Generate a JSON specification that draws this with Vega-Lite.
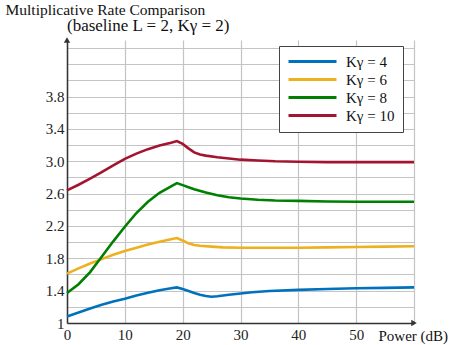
{
  "$schema": "https://vega.github.io/schema/vega-lite/v6.json",
  "width": 347,
  "height": 283,
  "autosize": {"type": "none"},
  "padding": {"left": 67, "top": 40, "right": 35, "bottom": 22},
  "background": "white",
  "title": {
    "text": "(baseline L = 2, Kγ = 2)",
    "anchor": "start",
    "frame": "group",
    "font": "Liberation Serif",
    "fontSize": 17,
    "fontWeight": "normal",
    "color": "#111",
    "offset": 0,
    "dy": 33
  },
  "config": {
    "font": "Liberation Serif",
    "view": {"stroke": null},
    "axis": {
      "labelFont": "Liberation Serif",
      "labelFontSize": 15,
      "labelColor": "#222",
      "labelOverlap": false,
      "ticks": false,
      "domainColor": "#333",
      "domainWidth": 1.5,
      "gridColor": "#c4c4c4",
      "gridOpacity": 1,
      "gridWidth": 1.2,
      "titleFont": "Liberation Serif",
      "titleFontWeight": "normal",
      "titleColor": "#111"
    },
    "legend": {"labelFont": "Liberation Serif", "titleFont": "Liberation Serif"}
  },
  "resolve": {"axis": {"y": "independent"}},
  "layer": [
    {
      "data": {
        "values": [
          {"x": 0, "y": 1.08, "s": "Kγ = 4"}, {"x": 2, "y": 1.13, "s": "Kγ = 4"}, {"x": 4, "y": 1.18, "s": "Kγ = 4"}, {"x": 6, "y": 1.225, "s": "Kγ = 4"}, {"x": 8, "y": 1.265, "s": "Kγ = 4"}, {"x": 10, "y": 1.3, "s": "Kγ = 4"}, {"x": 12, "y": 1.34, "s": "Kγ = 4"}, {"x": 14, "y": 1.375, "s": "Kγ = 4"}, {"x": 16, "y": 1.405, "s": "Kγ = 4"}, {"x": 18, "y": 1.43, "s": "Kγ = 4"}, {"x": 19, "y": 1.44, "s": "Kγ = 4"}, {"x": 20, "y": 1.42, "s": "Kγ = 4"}, {"x": 21, "y": 1.395, "s": "Kγ = 4"}, {"x": 22, "y": 1.37, "s": "Kγ = 4"}, {"x": 23, "y": 1.35, "s": "Kγ = 4"}, {"x": 24, "y": 1.335, "s": "Kγ = 4"}, {"x": 25, "y": 1.325, "s": "Kγ = 4"}, {"x": 26, "y": 1.33, "s": "Kγ = 4"}, {"x": 27, "y": 1.34, "s": "Kγ = 4"}, {"x": 28, "y": 1.35, "s": "Kγ = 4"}, {"x": 30, "y": 1.365, "s": "Kγ = 4"}, {"x": 32, "y": 1.38, "s": "Kγ = 4"}, {"x": 35, "y": 1.395, "s": "Kγ = 4"}, {"x": 40, "y": 1.41, "s": "Kγ = 4"}, {"x": 45, "y": 1.42, "s": "Kγ = 4"}, {"x": 50, "y": 1.43, "s": "Kγ = 4"}, {"x": 55, "y": 1.435, "s": "Kγ = 4"}, {"x": 60, "y": 1.44, "s": "Kγ = 4"},
          {"x": 0, "y": 1.61, "s": "Kγ = 6"}, {"x": 2, "y": 1.675, "s": "Kγ = 6"}, {"x": 4, "y": 1.735, "s": "Kγ = 6"}, {"x": 6, "y": 1.79, "s": "Kγ = 6"}, {"x": 8, "y": 1.845, "s": "Kγ = 6"}, {"x": 10, "y": 1.89, "s": "Kγ = 6"}, {"x": 12, "y": 1.93, "s": "Kγ = 6"}, {"x": 14, "y": 1.97, "s": "Kγ = 6"}, {"x": 16, "y": 2.005, "s": "Kγ = 6"}, {"x": 18, "y": 2.035, "s": "Kγ = 6"}, {"x": 19, "y": 2.05, "s": "Kγ = 6"}, {"x": 20, "y": 2.02, "s": "Kγ = 6"}, {"x": 21, "y": 1.985, "s": "Kγ = 6"}, {"x": 22, "y": 1.965, "s": "Kγ = 6"}, {"x": 23, "y": 1.955, "s": "Kγ = 6"}, {"x": 25, "y": 1.945, "s": "Kγ = 6"}, {"x": 27, "y": 1.935, "s": "Kγ = 6"}, {"x": 30, "y": 1.93, "s": "Kγ = 6"}, {"x": 35, "y": 1.93, "s": "Kγ = 6"}, {"x": 40, "y": 1.93, "s": "Kγ = 6"}, {"x": 45, "y": 1.935, "s": "Kγ = 6"}, {"x": 50, "y": 1.94, "s": "Kγ = 6"}, {"x": 55, "y": 1.945, "s": "Kγ = 6"}, {"x": 60, "y": 1.95, "s": "Kγ = 6"},
          {"x": 0, "y": 1.37, "s": "Kγ = 8"}, {"x": 2, "y": 1.48, "s": "Kγ = 8"}, {"x": 4, "y": 1.63, "s": "Kγ = 8"}, {"x": 6, "y": 1.82, "s": "Kγ = 8"}, {"x": 8, "y": 2.01, "s": "Kγ = 8"}, {"x": 10, "y": 2.19, "s": "Kγ = 8"}, {"x": 12, "y": 2.36, "s": "Kγ = 8"}, {"x": 14, "y": 2.5, "s": "Kγ = 8"}, {"x": 16, "y": 2.61, "s": "Kγ = 8"}, {"x": 18, "y": 2.69, "s": "Kγ = 8"}, {"x": 19, "y": 2.73, "s": "Kγ = 8"}, {"x": 20, "y": 2.705, "s": "Kγ = 8"}, {"x": 21, "y": 2.68, "s": "Kγ = 8"}, {"x": 22, "y": 2.655, "s": "Kγ = 8"}, {"x": 24, "y": 2.615, "s": "Kγ = 8"}, {"x": 26, "y": 2.58, "s": "Kγ = 8"}, {"x": 28, "y": 2.555, "s": "Kγ = 8"}, {"x": 30, "y": 2.54, "s": "Kγ = 8"}, {"x": 33, "y": 2.525, "s": "Kγ = 8"}, {"x": 36, "y": 2.515, "s": "Kγ = 8"}, {"x": 40, "y": 2.51, "s": "Kγ = 8"}, {"x": 45, "y": 2.503, "s": "Kγ = 8"}, {"x": 50, "y": 2.5, "s": "Kγ = 8"}, {"x": 55, "y": 2.5, "s": "Kγ = 8"}, {"x": 60, "y": 2.5, "s": "Kγ = 8"},
          {"x": 0, "y": 2.64, "s": "Kγ = 10"}, {"x": 2, "y": 2.71, "s": "Kγ = 10"}, {"x": 4, "y": 2.785, "s": "Kγ = 10"}, {"x": 6, "y": 2.865, "s": "Kγ = 10"}, {"x": 8, "y": 2.95, "s": "Kγ = 10"}, {"x": 10, "y": 3.03, "s": "Kγ = 10"}, {"x": 12, "y": 3.095, "s": "Kγ = 10"}, {"x": 14, "y": 3.15, "s": "Kγ = 10"}, {"x": 16, "y": 3.195, "s": "Kγ = 10"}, {"x": 18, "y": 3.23, "s": "Kγ = 10"}, {"x": 19, "y": 3.25, "s": "Kγ = 10"}, {"x": 20, "y": 3.215, "s": "Kγ = 10"}, {"x": 21, "y": 3.16, "s": "Kγ = 10"}, {"x": 22, "y": 3.11, "s": "Kγ = 10"}, {"x": 23, "y": 3.085, "s": "Kγ = 10"}, {"x": 24, "y": 3.07, "s": "Kγ = 10"}, {"x": 26, "y": 3.05, "s": "Kγ = 10"}, {"x": 28, "y": 3.035, "s": "Kγ = 10"}, {"x": 30, "y": 3.02, "s": "Kγ = 10"}, {"x": 33, "y": 3.01, "s": "Kγ = 10"}, {"x": 36, "y": 3.0, "s": "Kγ = 10"}, {"x": 40, "y": 2.995, "s": "Kγ = 10"}, {"x": 45, "y": 2.99, "s": "Kγ = 10"}, {"x": 50, "y": 2.99, "s": "Kγ = 10"}, {"x": 55, "y": 2.99, "s": "Kγ = 10"}, {"x": 60, "y": 2.99, "s": "Kγ = 10"}
        ]
      },
      "mark": {"type": "line", "strokeWidth": 2.6, "clip": false},
      "encoding": {
        "x": {
          "field": "x", "type": "quantitative",
          "scale": {"domain": [0, 60], "nice": false},
          "axis": {
            "values": [0, 10, 20, 30, 40, 50, 60],
            "labelExpr": "datum.value == 60 ? '' : datum.label",
            "labelOverlap": false,
            "labelPadding": 4,
            "labelFlush": false,
            "grid": true,
            "title": "Power (dB)",
            "titleFontSize": 15,
            "titleAlign": "left",
            "titleBaseline": "alphabetic",
            "titleX": 311,
            "titleY": 17
          }
        },
        "y": {
          "field": "y", "type": "quantitative",
          "scale": {"domain": [1, 4.5], "nice": false, "zero": false},
          "axis": {
            "orient": "left",
            "values": [1, 1.4, 1.8, 2.2, 2.6, 3, 3.4, 3.8],
            "labelExpr": "datum.value == 1 ? '1' : format(datum.value, '.1f')",
            "labelOverlap": false,
            "labelPadding": 3,
            "labelFlush": false,
            "grid": false,
            "title": "Multiplicative Rate Comparison",
            "titleAngle": 0,
            "titleFontSize": 15.5,
            "titleAlign": "left",
            "titleBaseline": "alphabetic",
            "titleX": -62,
            "titleY": -26
          }
        },
        "color": {
          "field": "s", "type": "nominal",
          "scale": {
            "domain": ["Kγ = 4", "Kγ = 6", "Kγ = 8", "Kγ = 10"],
            "range": ["#0072BD", "#EDB120", "#008000", "#A2142F"]
          },
          "legend": {
            "title": null,
            "orient": "none",
            "legendX": 212,
            "legendY": 6,
            "padding": 8,
            "fillColor": "white",
            "strokeColor": "#444",
            "symbolType": "M-4,0H4",
            "symbolSize": 144,
            "symbolStrokeWidth": 3,
            "symbolOffset": 18,
            "labelFont": "Liberation Serif",
            "labelFontSize": 15,
            "labelColor": "#111",
            "labelOffset": 26,
            "rowPadding": 2
          }
        }
      }
    },
    {
      "data": {"values": [{"x": 60, "y": 1, "dir": "right"}, {"x": 0, "y": 4.5, "dir": "up"}]},
      "mark": {"type": "point", "filled": true, "size": 40, "color": "#333", "opacity": 1, "clip": false},
      "encoding": {
        "x": {"field": "x", "type": "quantitative"},
        "y": {
          "field": "y", "type": "quantitative",
          "axis": {
            "orient": "right",
            "values": [1.2, 1.4, 1.6, 1.8, 2, 2.2, 2.4, 2.6, 2.8, 3, 3.2, 3.4, 3.6, 3.8, 4, 4.2, 4.4],
            "grid": true,
            "labels": false,
            "domain": false,
            "ticks": false,
            "title": null
          }
        },
        "shape": {
          "field": "dir", "type": "nominal",
          "scale": {"domain": ["right", "up"], "range": ["triangle-right", "triangle-up"]},
          "legend": null
        }
      }
    }
  ]
}
